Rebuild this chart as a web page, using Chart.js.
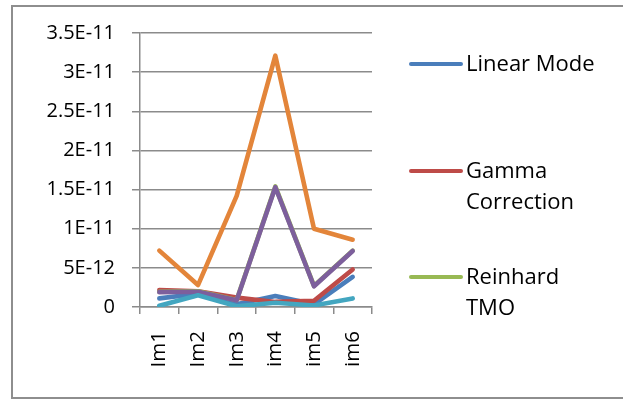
<!DOCTYPE html>
<html>
<head>
<meta charset="utf-8">
<script src="https://cdn.jsdelivr.net/npm/chart.js@4.4.1/dist/chart.umd.min.js"></script>
<style>
  html, body { margin: 0; padding: 0; background: #fff; overflow: hidden; }
  #wrap { position: relative; width: 623px; height: 399px; }
  #frame { position: absolute; left: 11px; top: 5px; width: 620px; height: 390px; border: 2px solid #8e8e8e; box-sizing: content-box; pointer-events: none; }
  canvas { position: absolute; left: 0; top: 0; }
</style>
</head>
<body>
<div id="wrap">
  <canvas id="chart" width="623" height="399"></canvas>
  <div id="frame"></div>
</div>
<script>
// Image categories along the x axis
const categories = ['Im1', 'Im2', 'Im3', 'im4', 'im5', 'im6'];

// Values per method
const linearMode      = [1.1e-12, 1.7e-12, 0.35e-12, 1.4e-12, 0.35e-12, 3.85e-12];
const gammaCorrection = [2.15e-12, 2.0e-12, 1.2e-12, 0.65e-12, 0.8e-12, 4.8e-12];
const reinhardTmo     = [1.95e-12, 2.0e-12, 0.9e-12, 15.4e-12, 2.7e-12, 7.2e-12];
const series4         = [1.9e-12, 1.95e-12, 0.85e-12, 15.3e-12, 2.65e-12, 7.15e-12];
const series5         = [0.15e-12, 1.5e-12, 0.1e-12, 0.55e-12, 0.2e-12, 1.1e-12];
const series6         = [7.2e-12, 2.8e-12, 14.2e-12, 32.1e-12, 10.0e-12, 8.6e-12];

// Y axis ticks and their labels
const yTickValues = [0, 5e-12, 1e-11, 1.5e-11, 2e-11, 2.5e-11, 3e-11, 3.5e-11];
const yTickLabels = ['0', '5E-12', '1E-11', '1.5E-11', '2E-11', '2.5E-11', '3E-11', '3.5E-11'];

// Series shown in the legend
const legendNames = ['Linear Mode', 'Gamma Correction', 'Reinhard TMO'];

const FONT = '"Open Sans", "DejaVu Sans", sans-serif';

function line(label, data, color, order) {
  return {
    label, data, order,
    borderColor: color, backgroundColor: color,
    borderWidth: 4.6, pointRadius: 0, pointHoverRadius: 0,
    tension: 0, fill: false,
    borderCapStyle: 'round', borderJoinStyle: 'round'
  };
}

// Legend drawn to the right, with word-wrapped labels
const sideLegend = {
  id: 'sideLegend',
  afterDraw(chart) {
    const ctx = chart.ctx;
    const rows = [64, 171, 277];
    const maxW = 140, lineH = 31;
    ctx.save();
    ctx.font = '22px ' + FONT;
    ctx.textBaseline = 'middle';
    ctx.textAlign = 'left';
    legendNames.forEach((name, i) => {
      const ds = chart.data.datasets.find(d => d.label === name);
      const y = rows[i];
      ctx.strokeStyle = ds.borderColor;
      ctx.lineWidth = 4;
      ctx.lineCap = 'round';
      ctx.beginPath();
      ctx.moveTo(411, y);
      ctx.lineTo(461, y);
      ctx.stroke();
      // wrap words
      const words = name.split(' ');
      const lines = [];
      let cur = '';
      words.forEach(w => {
        const t = cur ? cur + ' ' + w : w;
        if (cur && ctx.measureText(t).width > maxW) { lines.push(cur); cur = w; }
        else cur = t;
      });
      lines.push(cur);
      ctx.fillStyle = '#000';
      lines.forEach((l, k) => ctx.fillText(l, 466, y + 1 + k * lineH));
    });
    ctx.restore();
  }
};

new Chart(document.getElementById('chart'), {
  type: 'line',
  data: {
    labels: categories,
    datasets: [
      line('Linear Mode', linearMode, '#4a7ebb', 5),
      line('Gamma Correction', gammaCorrection, '#be4b48', 4),
      line('Reinhard TMO', reinhardTmo, '#98b954', 3),
      line('Series 4', series4, '#7d5f9c', 2),
      line('Series 5', series5, '#43a6c0', 1),
      line('Series 6', series6, '#e3853a', 0)
    ]
  },
  options: {
    responsive: false,
    animation: false,
    events: [],
    layout: { padding: { left: 0, top: 33, right: 251, bottom: 0 } },
    plugins: { legend: { display: false }, tooltip: { enabled: false } },
    scales: {
      x: {
        offset: true,
        border: { display: true, color: '#8b8b8b', width: 1.5 },
        grid: { offset: true, drawOnChartArea: false, drawTicks: true, tickLength: 7, color: '#8b8b8b', lineWidth: 1.5 },
        ticks: { color: '#000', font: { family: FONT, size: 20.5 }, minRotation: 90, maxRotation: 90, padding: 17, autoSkip: false },
        afterFit(scale) { scale.height = 92; }
      },
      y: {
        min: 0, max: 3.5e-11,
        border: { display: true, color: '#8b8b8b', width: 1.5 },
        grid: { color: '#8b8b8b', lineWidth: 1.5, tickLength: 8, drawTicks: true },
        ticks: {
          color: '#000', font: { family: FONT, size: 20 }, padding: 17,
          callback: (v, i) => yTickLabels[i]
        },
        afterBuildTicks(scale) { scale.ticks = yTickValues.map(v => ({ value: v })); },
        afterFit(scale) { scale.width = 140; }
      }
    }
  },
  plugins: [sideLegend]
});
</script>
</body>
</html>
